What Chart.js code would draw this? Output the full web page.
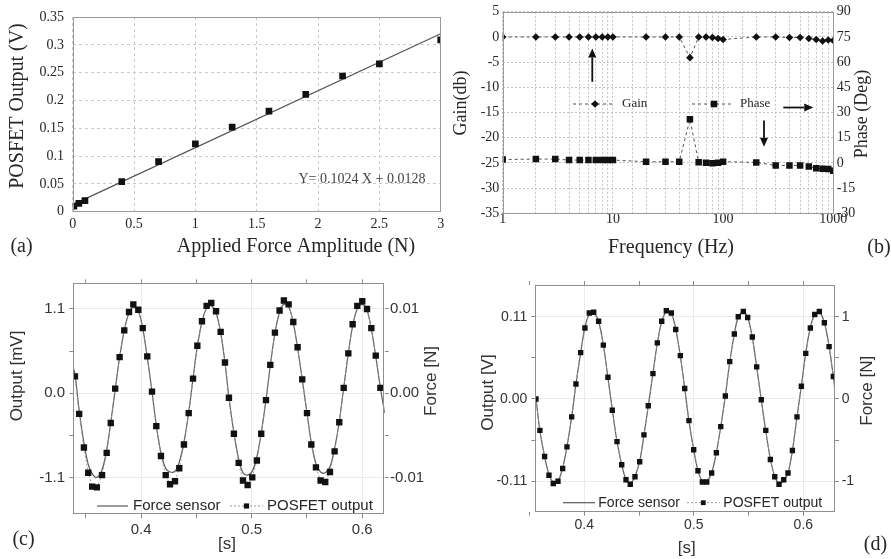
<!DOCTYPE html>
<html>
<head>
<meta charset="utf-8">
<title>POSFET sensor characterisation</title>
<script src="https://cdn.jsdelivr.net/npm/chart.js@4.4.1/dist/chart.umd.min.js"></script>
<style>
  html, body { margin: 0; padding: 0; background: #fff; }
  body { width: 891px; height: 559px; position: relative; overflow: hidden; }
  canvas { position: absolute; }
</style>
</head>
<body>
<canvas id="chartA" width="450" height="270" style="left:0;top:0"></canvas>
<canvas id="chartB" width="441" height="270" style="left:450px;top:0"></canvas>
<canvas id="chartC" width="445" height="289" style="left:0;top:270px"></canvas>
<canvas id="chartD" width="446" height="289" style="left:445px;top:270px"></canvas>
<script>
// ---------- (a) static calibration ----------
const appliedForceN = [0.01, 0.05, 0.1, 0.4, 0.7, 1.0, 1.3, 1.6, 1.9, 2.2, 2.5, 3.0];
const posfetOutputV = [0.010, 0.015, 0.020, 0.054, 0.090, 0.122, 0.152, 0.181, 0.211, 0.244, 0.266, 0.309];
const fitSlope = 0.1024;
const fitIntercept = 0.0128;
const fitRangeN = [0, 3];
const aForceTicks = [0, 0.5, 1, 1.5, 2, 2.5, 3];
const aForceTickLabels = ['0', '0.5', '1', '1.5', '2', '2.5', '3'];
const aOutputTicks = [0, 0.05, 0.1, 0.15, 0.2, 0.25, 0.3, 0.35];
const aOutputTickLabels = ['0', '0.05', '0.1', '0.15', '0.2', '0.25', '0.3', '0.35'];

// ---------- (b) frequency response ----------
const freqHz = [1, 2, 3, 4, 5, 6, 7, 8, 9, 10, 20, 30, 40, 50, 60, 70, 80, 90, 100,
                200, 300, 400, 500, 600, 700, 800, 900, 1000];
const gainDb = [0, 0, 0, 0, 0, 0, 0, 0, 0, 0, 0, 0, 0, -4.1, 0, 0, -0.1, -0.3, -0.5,
                0, 0, -0.1, -0.1, -0.3, -0.5, -0.8, -0.6, -0.7];
const phaseDeg = [2.0, 2.3, 2.3, 1.7, 1.7, 1.7, 1.7, 1.7, 1.7, 1.7, 0.7, 0.7, 0.7, 26, 0.35, 0.15, -0.25, 0.15, 0.75,
                  0.3, -1.5, -1.5, -1.5, -2.2, -3.2, -3.4, -3.6, -4.6];
const freqTickValues = [1, 10, 100, 1000];
const freqTickLabels = ['1', '10', '100', '1000'];
const gainTicks = [5, 0, -5, -10, -15, -20, -25, -30, -35];
const gainTickLabels = ['5', '0', '-5', '-10', '-15', '-20', '-25', '-30', '-35'];
const phaseTicks = [90, 75, 60, 45, 30, 15, 0, -15, -30];
const phaseTickLabels = ['90', '75', '60', '45', '30', '15', '0', '-15', '-30'];

// ---------- (c) dynamic response, small force ----------
const cTimeS = [0.3401, 0.3439, 0.3482, 0.3521, 0.3557, 0.3599, 0.3646, 0.3688, 0.3725, 0.3765,
                0.3805, 0.3847, 0.3890, 0.3929, 0.3974, 0.4014, 0.4055, 0.4098, 0.4137, 0.4179,
                0.4222, 0.4261, 0.4306, 0.4345, 0.4387, 0.4430, 0.4469, 0.4508, 0.4550, 0.4592,
                0.4634, 0.4677, 0.4719, 0.4758, 0.4794, 0.4839, 0.4882, 0.4921, 0.4963, 0.5005,
                0.5047, 0.5086, 0.5129, 0.5168, 0.5210, 0.5252, 0.5291, 0.5334, 0.5376, 0.5415,
                0.5457, 0.5500, 0.5539, 0.5581, 0.5623, 0.5665, 0.5708, 0.5750, 0.5792, 0.5832,
                0.5874, 0.5913, 0.5955, 0.6000, 0.6043, 0.6082, 0.6122, 0.6164];
const cPosfetMv = [0.22, -0.27, -0.71, -1.04, -1.22, -1.23, -1.07, -0.78, -0.39, 0.06,
                   0.47, 0.82, 1.06, 1.16, 1.09, 0.85, 0.48, 0.02, -0.43, -0.82,
                   -1.07, -1.19, -1.15, -0.98, -0.67, -0.26, 0.19, 0.62, 0.94, 1.14,
                   1.18, 1.07, 0.80, 0.40, -0.06, -0.53, -0.91, -1.14, -1.20, -1.10,
                   -0.88, -0.53, -0.09, 0.37, 0.79, 1.08, 1.21, 1.16, 0.93, 0.60,
                   0.18, -0.26, -0.67, -0.97, -1.14, -1.16, -1.03, -0.76, -0.38, 0.07,
                   0.52, 0.90, 1.14, 1.20, 1.10, 0.85, 0.49, 0.07];
const cForceTimeS = [0.3386, ...cTimeS, 0.6203];
const cForceN = [0.0030, 0.00227, -0.0020, -0.00591, -0.00845, -0.00955, -0.0100, -0.00909, -0.00673, -0.00345, 0.00045,
                 0.00427, 0.00745, 0.00955, 0.01018, 0.00973, 0.00773, 0.00427, 0.00018, -0.00382, -0.00709,
                 -0.00891, -0.00936, -0.00927, -0.00818, -0.00582, -0.00227, 0.00173, 0.00555, 0.00845, 0.01009,
                 0.01036, 0.00955, 0.00718, 0.00364, -0.00055, -0.00473, -0.00782, -0.00945, -0.00973, -0.00927,
                 -0.00755, -0.00473, -0.00082, 0.00327, 0.00709, 0.00964, 0.01055, 0.01027, 0.00836, 0.00536,
                 0.00164, -0.00236, -0.00582, -0.00836, -0.00936, -0.00945, -0.00873, -0.00655, -0.00336, 0.00064,
                 0.00473, 0.00800, 0.01000, 0.01055, 0.00982, 0.00764, 0.00436, 0.00064, -0.00235];
const timeTicks = [0.35, 0.4, 0.45, 0.5, 0.55, 0.6];
const timeTickLabels = ['', '0.4', '', '0.5', '', '0.6'];
const cOutTicks = [-1.1, -0.55, 0, 0.55, 1.1];
const cOutTickLabels = ['-1.1', '', '0.0', '', '1.1'];
const cForceTicks = [-0.01, -0.005, 0, 0.005, 0.01];
const cForceTickLabels = ['-0.01', '', '0.00', '', '0.01'];

// ---------- (d) dynamic response, large force ----------
const dTimeS = [0.3559, 0.3595, 0.3638, 0.3678, 0.3717, 0.3760, 0.3803, 0.3842, 0.3885, 0.3924,
                0.3967, 0.4006, 0.4046, 0.4086, 0.4131, 0.4174, 0.4216, 0.4256, 0.4299, 0.4342,
                0.4381, 0.4420, 0.4463, 0.4506, 0.4545, 0.4584, 0.4627, 0.4667, 0.4707, 0.4749,
                0.4795, 0.4835, 0.4877, 0.4917, 0.4956, 0.4999, 0.5038, 0.5078, 0.5118, 0.5163,
                0.5206, 0.5246, 0.5288, 0.5328, 0.5370, 0.5406, 0.5452, 0.5492, 0.5534, 0.5574,
                0.5616, 0.5657, 0.5699, 0.5739, 0.5778, 0.5821, 0.5860, 0.5900, 0.5942, 0.5982,
                0.6022, 0.6064, 0.6104, 0.6146, 0.6192, 0.6235, 0.6274];
const dPosfetV = [0.000, -0.042, -0.077, -0.102, -0.113, -0.110, -0.093, -0.064, -0.024, 0.020,
                  0.062, 0.095, 0.115, 0.116, 0.104, 0.072, 0.029, -0.015, -0.057, -0.088,
                  -0.108, -0.114, -0.104, -0.084, -0.048, -0.009, 0.034, 0.075, 0.104, 0.118,
                  0.115, 0.093, 0.058, 0.014, -0.029, -0.068, -0.096, -0.111, -0.111, -0.099,
                  -0.072, -0.037, 0.004, 0.050, 0.087, 0.110, 0.117, 0.109, 0.083, 0.043,
                  -0.001, -0.042, -0.081, -0.104, -0.114, -0.108, -0.099, -0.069, -0.024, 0.017,
                  0.061, 0.095, 0.113, 0.117, 0.102, 0.070, 0.030];
const dForceTimeS = [0.3553, ...dTimeS, 0.6289];
const dForceN = [0.01, 0.00, -0.39, -0.70, -0.92, -1.01, -1.00, -0.84, -0.58, -0.22, 0.18,
                 0.56, 0.87, 1.03, 1.05, 0.94, 0.66, 0.26, -0.13, -0.52, -0.80,
                 -0.98, -1.03, -0.94, -0.76, -0.44, -0.09, 0.31, 0.68, 0.94, 1.06,
                 1.04, 0.85, 0.52, 0.13, -0.27, -0.62, -0.87, -1.00, -1.00, -0.90,
                 -0.65, -0.34, 0.04, 0.45, 0.79, 1.00, 1.06, 0.99, 0.75, 0.39,
                 -0.01, -0.39, -0.73, -0.94, -1.03, -0.99, -0.90, -0.63, -0.22, 0.16,
                 0.56, 0.87, 1.03, 1.06, 0.93, 0.64, 0.27, 0.10];
const dOutTicks = [-0.11, -0.055, 0, 0.055, 0.11];
const dOutTickLabels = ['-0.11', '', '0.00', '', '0.11'];
const dForceTicks = [-1, -0.5, 0, 0.5, 1];
const dForceTickLabels = ['-1', '', '0', '', '1'];

// ---------- shared helpers ----------
const SERIF = '"Liberation Serif", "Times New Roman", Times, serif';
const SANS = '"Liberation Sans", Arial, Helvetica, sans-serif';
const TEXT = '#262626';

Chart.defaults.animation = false;
Chart.defaults.plugins.legend.display = false;
Chart.defaults.plugins.tooltip.enabled = false;

const toPoints = (xs, ys) => xs.map((x, i) => ({ x: x, y: ys[i] }));
const fixWidth = w => s => { s.width = w; };
const fixHeight = h => s => { s.height = h; };
const useTicks = vals => s => { s.ticks = vals.map(v => ({ value: v })); };
const labelFor = (vals, labels) => v => {
  const i = vals.findIndex(t => Math.abs(t - v) < 1e-9);
  return i < 0 ? '' : labels[i];
};

function drawMarker(ctx, style, x, y, half, color) {
  ctx.save();
  ctx.fillStyle = color;
  ctx.beginPath();
  if (style === 'rectRot') {
    ctx.moveTo(x, y - half); ctx.lineTo(x + half, y);
    ctx.lineTo(x, y + half); ctx.lineTo(x - half, y);
    ctx.closePath();
  } else {
    ctx.rect(x - half, y - half, 2 * half, 2 * half);
  }
  ctx.fill();
  ctx.restore();
}

// frame, in-plot legends, arrows and captions
const panelDecor = {
  id: 'panelDecor',
  afterDatasetsDraw(chart, args, o) {
    const ctx = chart.ctx, a = chart.chartArea;
    if (o.frame) {
      ctx.save();
      ctx.strokeStyle = o.frame; ctx.lineWidth = 1;
      ctx.strokeRect(Math.round(a.left) + 0.5, Math.round(a.top) + 0.5,
                     Math.round(a.right - a.left) - 1, Math.round(a.bottom - a.top) - 1);
      ctx.restore();
    }
    (o.arrows || []).forEach(ar => {
      const sx = chart.scales.x, sy = chart.scales.y;
      const x1 = sx.getPixelForValue(ar.from[0]), y1 = sy.getPixelForValue(ar.from[1]);
      const x2 = sx.getPixelForValue(ar.to[0]), y2 = sy.getPixelForValue(ar.to[1]);
      const ang = Math.atan2(y2 - y1, x2 - x1), hl = 9, hw = 4;
      const bx = x2 - hl * Math.cos(ang), by = y2 - hl * Math.sin(ang);
      ctx.save();
      ctx.strokeStyle = '#111'; ctx.fillStyle = '#111'; ctx.lineWidth = 1.8;
      ctx.beginPath(); ctx.moveTo(x1, y1); ctx.lineTo(bx, by); ctx.stroke();
      ctx.beginPath();
      ctx.moveTo(x2, y2);
      ctx.lineTo(bx + hw * Math.sin(ang), by - hw * Math.cos(ang));
      ctx.lineTo(bx - hw * Math.sin(ang), by + hw * Math.cos(ang));
      ctx.closePath(); ctx.fill();
      ctx.restore();
    });
    (o.legend || []).forEach(it => {
      const ds = chart.data.datasets[it.ds];
      ctx.save();
      ctx.strokeStyle = ds.borderColor; ctx.lineWidth = ds.borderWidth;
      ctx.setLineDash(ds.borderDash || []);
      ctx.beginPath(); ctx.moveTo(it.x1, it.y); ctx.lineTo(it.x2, it.y); ctx.stroke();
      ctx.setLineDash([]);
      if (it.marker) drawMarker(ctx, ds.pointStyle, it.mx, it.y, it.marker, ds.pointBackgroundColor);
      ctx.font = it.font; ctx.fillStyle = it.color || TEXT;
      ctx.textAlign = 'left'; ctx.textBaseline = 'middle';
      ctx.fillText(ds.label, it.tx, it.y);
      ctx.restore();
    });
    (o.texts || []).forEach(t => {
      let x = t.x, y = t.y;
      if (t.dx !== undefined) x = chart.scales.x.getPixelForValue(t.dx);
      if (t.dy !== undefined) y = chart.scales.y.getPixelForValue(t.dy);
      ctx.save();
      ctx.font = t.font; ctx.fillStyle = t.color || TEXT;
      ctx.textAlign = t.align || 'center'; ctx.textBaseline = 'middle';
      ctx.translate(x, y);
      if (t.rot) ctx.rotate(t.rot * Math.PI / 180);
      ctx.fillText(t.text, 0, 0);
      ctx.restore();
    });
  }
};
Chart.register(panelDecor);

// ---------- (a) ----------
new Chart(document.getElementById('chartA'), {
  type: 'scatter',
  data: {
    datasets: [
      {
        label: 'Measured',
        data: toPoints(appliedForceN, posfetOutputV),
        pointStyle: 'rect', pointRadius: 4.7, pointBackgroundColor: '#111', pointBorderWidth: 0,
        showLine: false
      },
      {
        label: 'Linear fit',
        data: fitRangeN.map(x => ({ x: x, y: fitIntercept + fitSlope * x })),
        showLine: true, borderColor: '#555', borderWidth: 1.3, pointRadius: 0
      }
    ]
  },
  options: {
    responsive: false,
    layout: { padding: { top: 12.7, right: 9.3, left: 0, bottom: 0 } },
    scales: {
      x: {
        type: 'linear', min: 0, max: 3,
        afterBuildTicks: useTicks(aForceTicks), afterFit: fixHeight(58.3),
        ticks: { callback: labelFor(aForceTicks, aForceTickLabels), font: { family: SERIF, size: 14 },
                 color: TEXT, padding: 3.9, maxRotation: 0, autoSkip: false },
        grid: { color: '#c9c9c9', drawTicks: false },
        border: { display: false, dash: [3, 3] }
      },
      y: {
        type: 'linear', min: 0, max: 0.35,
        afterBuildTicks: useTicks(aOutputTicks), afterFit: fixWidth(72.7),
        ticks: { callback: labelFor(aOutputTicks, aOutputTickLabels), font: { family: SERIF, size: 14 },
                 color: TEXT, padding: 8.7, autoSkip: false },
        grid: { color: '#c9c9c9', drawTicks: false },
        border: { display: false, dash: [3, 3] }
      }
    },
    plugins: {
      panelDecor: {
        frame: '#9a9a9a',
        texts: [
          { text: 'POSFET Output (V)', x: 18, y: 106, rot: -90, font: '20px ' + SERIF },
          { text: 'Applied Force Amplitude (N)', x: 296, y: 247, font: '20px ' + SERIF },
          { text: '(a)', x: 21.5, y: 247, font: '20px ' + SERIF },
          { text: 'Y= 0.1024 X + 0.0128', dx: 1.84, dy: 0.0587, align: 'left', font: '14px ' + SERIF, color: '#444' }
        ]
      }
    }
  }
});

// ---------- (b) ----------
new Chart(document.getElementById('chartB'), {
  type: 'scatter',
  data: {
    datasets: [
      {
        label: 'Gain', yAxisID: 'y',
        data: toPoints(freqHz, gainDb),
        showLine: true, borderColor: '#555', borderWidth: 1, borderDash: [3, 3],
        pointStyle: 'rectRot', pointRadius: 3.8, pointBackgroundColor: '#111', pointBorderWidth: 0
      },
      {
        label: 'Phase', yAxisID: 'y1',
        data: toPoints(freqHz, phaseDeg),
        showLine: true, borderColor: '#555', borderWidth: 1, borderDash: [3, 3],
        pointStyle: 'rect', pointRadius: 4.6, pointBackgroundColor: '#111', pointBorderWidth: 0
      }
    ]
  },
  options: {
    responsive: false,
    layout: { padding: { top: 11.7, right: 0, left: 0, bottom: 0 } },
    scales: {
      x: {
        type: 'logarithmic', min: 1, max: 1000, afterFit: fixHeight(56.7),
        ticks: { callback: labelFor(freqTickValues, freqTickLabels), font: { family: SERIF, size: 14 },
                 color: TEXT, padding: -2.7, maxRotation: 0, autoSkip: false },
        grid: { color: '#c4c4c4', drawTicks: false },
        border: { display: false, dash: [2, 2] }
      },
      y: {
        type: 'linear', position: 'left', min: -35, max: 5,
        afterBuildTicks: useTicks(gainTicks), afterFit: fixWidth(52.7),
        ticks: { callback: labelFor(gainTicks, gainTickLabels), font: { family: SERIF, size: 14 },
                 color: TEXT, padding: 3.4, autoSkip: false },
        grid: { color: '#c4c4c4', drawTicks: false },
        border: { display: false, dash: [2, 2] }
      },
      y1: {
        type: 'linear', position: 'right', min: -30, max: 90,
        afterBuildTicks: useTicks(phaseTicks), afterFit: fixWidth(57.7),
        ticks: { callback: labelFor(phaseTicks, phaseTickLabels), font: { family: SERIF, size: 14 },
                 color: TEXT, padding: 3.4, autoSkip: false },
        grid: { drawOnChartArea: false, drawTicks: false },
        border: { display: false }
      }
    },
    plugins: {
      panelDecor: {
        frame: '#9a9a9a',
        arrows: [
          { from: [6.5, -8.9], to: [6.5, -2.3] },
          { from: [352, -14], to: [658, -14] },
          { from: [235, -16.6], to: [235, -21.8] }
        ],
        legend: [
          { ds: 0, x1: 123, x2: 165, mx: 145, marker: 3.8, y: 104, tx: 172, font: '13px ' + SERIF },
          { ds: 1, x1: 242, x2: 283, mx: 264, marker: 3.3, y: 104, tx: 290, font: '13px ' + SERIF }
        ],
        texts: [
          { text: 'Gain(db)', x: 11, y: 103, rot: -90, font: '18px ' + SERIF },
          { text: 'Phase (Deg)', x: 412, y: 114, rot: -90, font: '18px ' + SERIF },
          { text: 'Frequency (Hz)', x: 221, y: 248, font: '20px ' + SERIF },
          { text: '(b)', x: 429, y: 248, font: '20px ' + SERIF }
        ]
      }
    }
  }
});

// ---------- (c) and (d) share one look ----------
function waveChart(canvasId, cfg) {
  const tickCol = '#8a8a8a';
  const gridCol = c => (c.tick && c.tick.label) ? '#ebebeb' : 'rgba(0,0,0,0)';
  const tickFont = { family: SANS, size: cfg.tickSize };
  const axisGrid = { color: gridCol, tickColor: tickCol, tickLength: 4, drawTicks: true };
  return new Chart(document.getElementById(canvasId), {
    type: 'scatter',
    data: {
      datasets: [
        {
          label: 'Force sensor', yAxisID: 'y1', order: 1,
          data: toPoints(cfg.forceTime, cfg.force),
          showLine: true, borderColor: '#5a5a5a', borderWidth: 1.2, tension: 0.35, pointRadius: 0
        },
        {
          label: 'POSFET output', yAxisID: 'y', order: 0,
          data: toPoints(cfg.time, cfg.output),
          showLine: true, borderColor: '#9a9a9a', borderWidth: 1, borderDash: [2, 2],
          pointStyle: 'rect', pointRadius: cfg.markerRadius, pointBackgroundColor: '#111', pointBorderWidth: 0
        }
      ]
    },
    options: {
      responsive: false,
      layout: { padding: { top: cfg.padTop, right: 0, left: 0, bottom: 0 } },
      scales: {
        x: {
          type: 'linear', position: 'bottom', min: cfg.xMin, max: cfg.xMax,
          afterBuildTicks: useTicks(timeTicks), afterFit: fixHeight(cfg.bottomH),
          ticks: { callback: labelFor(timeTicks, timeTickLabels), font: tickFont, color: '#333',
                   padding: cfg.xPad, maxRotation: 0, autoSkip: false },
          grid: axisGrid, border: { display: false }
        },
        xTop: {
          type: 'linear', position: 'top', min: cfg.xMin, max: cfg.xMax,
          afterBuildTicks: useTicks(timeTicks), afterFit: fixHeight(4),
          ticks: { display: false },
          grid: { drawOnChartArea: false, tickColor: tickCol, tickLength: 4, drawTicks: true },
          border: { display: false }
        },
        y: {
          type: 'linear', position: 'left', min: cfg.yMin, max: cfg.yMax,
          afterBuildTicks: useTicks(cfg.outTicks), afterFit: fixWidth(cfg.leftW),
          ticks: { callback: labelFor(cfg.outTicks, cfg.outLabels), font: tickFont, color: '#333',
                   padding: cfg.yPad, autoSkip: false },
          grid: axisGrid, border: { display: false }
        },
        y1: {
          type: 'linear', position: 'right', min: cfg.y1Min, max: cfg.y1Max,
          afterBuildTicks: useTicks(cfg.forceTicks), afterFit: fixWidth(cfg.rightW),
          ticks: { callback: labelFor(cfg.forceTicks, cfg.forceLabels), font: tickFont, color: '#333',
                   padding: cfg.y1Pad, autoSkip: false },
          grid: { drawOnChartArea: false, tickColor: tickCol, tickLength: 4, drawTicks: true },
          border: { display: false }
        }
      },
      plugins: {
        panelDecor: {
          frame: '#8f8f8f',
          legend: cfg.legend,
          texts: cfg.texts
        }
      }
    }
  });
}

waveChart('chartC', {
  time: cTimeS, output: cPosfetMv, forceTime: cForceTimeS, force: cForceN,
  xMin: 0.3386, xMax: 0.6203, yMin: -1.582, yMax: 1.435, y1Min: -0.014382, y1Max: 0.013045,
  outTicks: cOutTicks, outLabels: cOutTickLabels, forceTicks: cForceTicks, forceLabels: cForceTickLabels,
  tickSize: 15, markerRadius: 4.5,
  padTop: 9.3, bottomH: 44.7, leftW: 73.3, rightW: 60.3, xPad: 2.7, yPad: 4.3, y1Pad: 1.3,
  legend: [
    { ds: 0, x1: 97, x2: 128, y: 236, tx: 133, font: '15px ' + SANS },
    { ds: 1, x1: 230, x2: 263, mx: 246.5, marker: 2.6, y: 236, tx: 267, font: '15px ' + SANS }
  ],
  texts: [
    { text: 'Output [mV]', x: 17.5, y: 106, rot: -90, font: '17px ' + SANS, color: '#333' },
    { text: 'Force [N]', x: 431, y: 111, rot: -90, font: '17px ' + SANS, color: '#333' },
    { text: '[s]', x: 227, y: 274, font: '17px ' + SANS, color: '#333' },
    { text: '(c)', x: 23.5, y: 270, font: '20px ' + SERIF }
  ]
});

waveChart('chartD', {
  time: dTimeS, output: dPosfetV, forceTime: dForceTimeS, force: dForceN,
  xMin: 0.3553, xMax: 0.6289, yMin: -0.1508, yMax: 0.1525, y1Min: -1.371, y1Max: 1.386,
  outTicks: dOutTicks, outLabels: dOutTickLabels, forceTicks: dForceTicks, forceLabels: dForceTickLabels,
  tickSize: 14, markerRadius: 3.8,
  padTop: 11, bottomH: 47.3, leftW: 90.3, rightW: 56, xPad: 0.9, yPad: 4, y1Pad: 2.7,
  legend: [
    { ds: 0, x1: 118, x2: 150, y: 232.7, tx: 153.3, font: '14px ' + SANS },
    { ds: 1, x1: 242, x2: 275, mx: 258.3, marker: 2.4, y: 232.7, tx: 278.3, font: '14px ' + SANS }
  ],
  texts: [
    { text: 'Output [V]', x: 43.3, y: 122.5, rot: -90, font: '17px ' + SANS, color: '#333' },
    { text: 'Force [N]', x: 422.5, y: 120.8, rot: -90, font: '17px ' + SANS, color: '#333' },
    { text: '[s]', x: 241.7, y: 278.3, font: '17px ' + SANS, color: '#333' },
    { text: '(d)', x: 430.5, y: 275, font: '20px ' + SERIF }
  ]
});
</script>
</body>
</html>
